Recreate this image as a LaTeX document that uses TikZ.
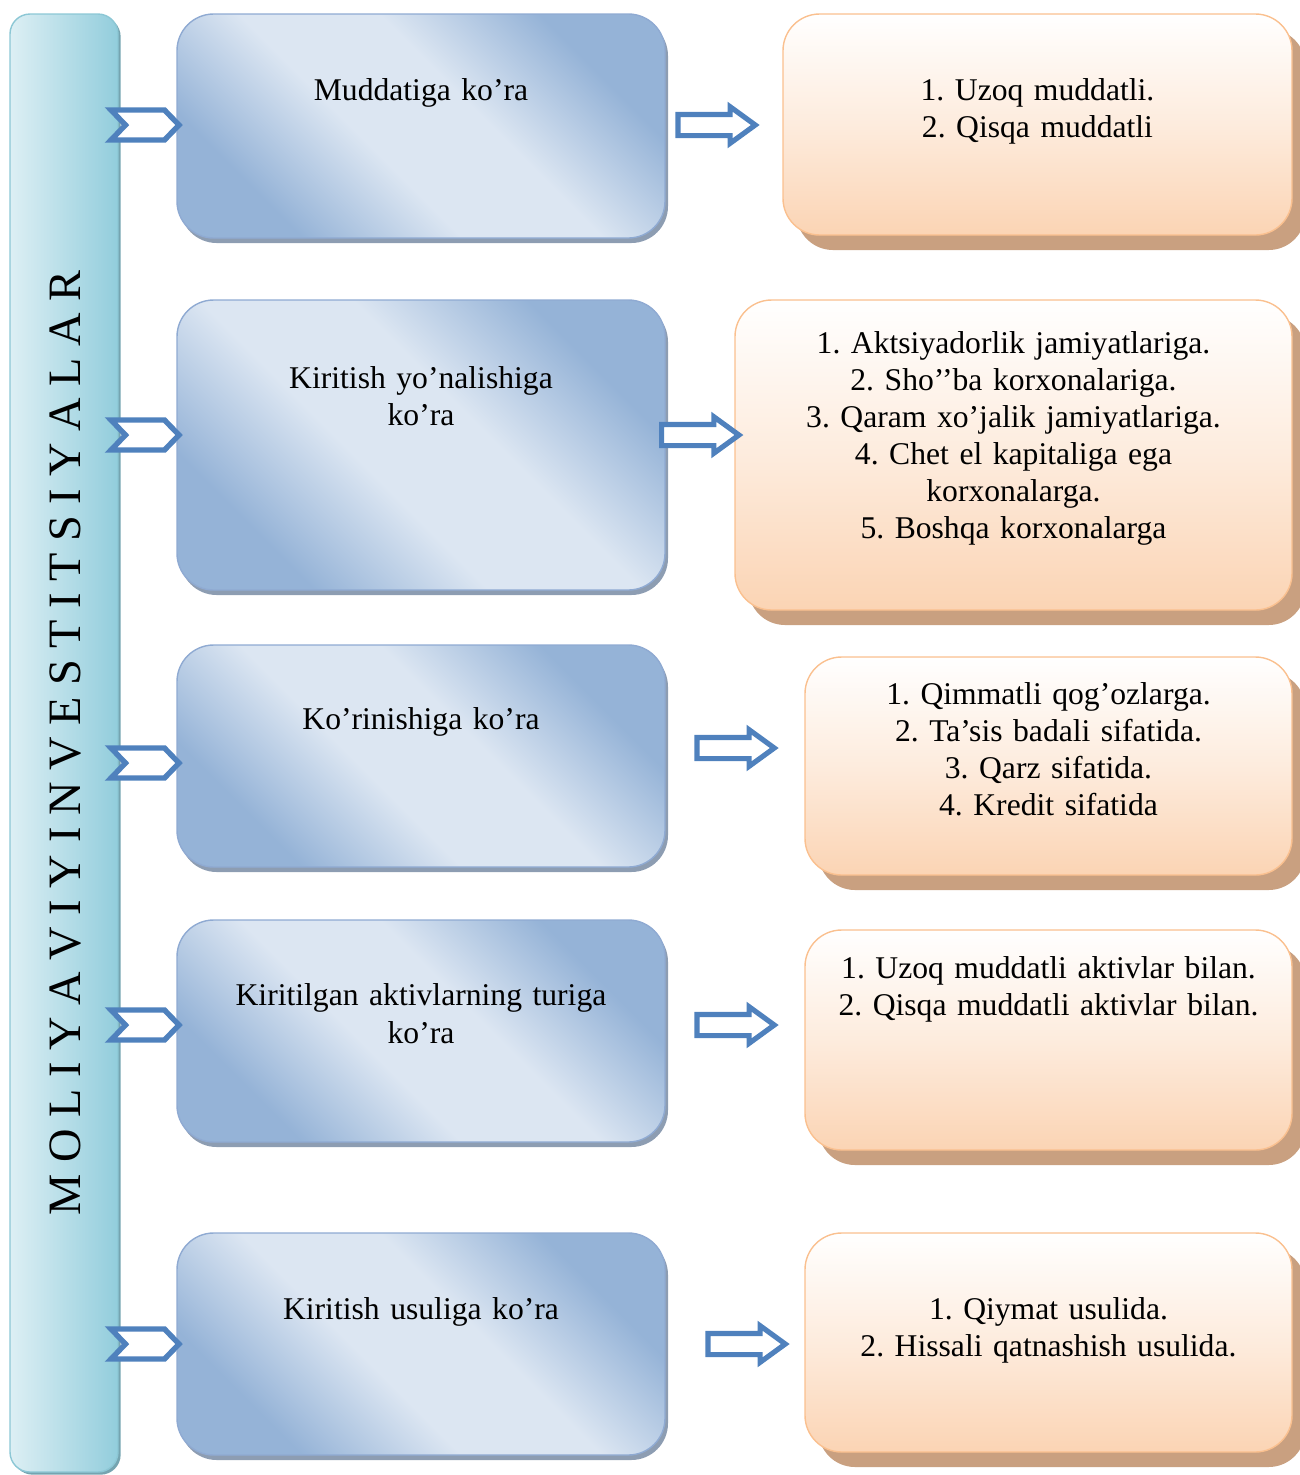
\documentclass[tikz,border=0pt]{standalone}
\usepackage{fontspec}
\setmainfont{Liberation Serif}
\usetikzlibrary{positioning}
\usetikzlibrary{shapes.arrows,shapes.symbols}
\usetikzlibrary{shadows}
\definecolor{barlight}{HTML}{DDEFF4}
\definecolor{bardark}{HTML}{92CDDC}
\definecolor{barline}{HTML}{8CC7D5}
\definecolor{bluedark}{HTML}{95B3D7}
\definecolor{bluelight}{HTML}{DCE6F2}
\definecolor{blueline}{HTML}{8FAAD2}
\definecolor{blueshadow}{HTML}{8D9DB2}
\definecolor{orangelow}{HTML}{FBD4B4}
\definecolor{orangeline}{HTML}{FAC08F}
\definecolor{orangeshadow}{HTML}{C9A080}
\definecolor{arrowblue}{HTML}{4F81BD}

\pgfdeclareverticalshading{bluediag}{100bp}{color(0bp)=(bluedark); color(27bp)=(bluedark);
  color(43bp)=(bluelight); color(57bp)=(bluelight); color(73bp)=(bluedark); color(100bp)=(bluedark)}

\tikzset{
  bar/.style={draw=barline, line width=0.6pt, rounded corners=0.3cm,
    left color=barlight, right color=bardark, inner sep=0pt,
    general shadow={fill=bardark!80!black, shadow xshift=0.04cm, shadow yshift=-0.04cm}},
  kind/.style={draw=blueline, line width=0.6pt, rounded corners=0.55cm,
    shading=bluediag, shading angle=-45,
    general shadow={fill=blueshadow, shadow xshift=0.045cm, shadow yshift=-0.075cm},
    minimum width=7.32cm, inner sep=0pt},
  way/.style={draw=orangeline, line width=0.6pt, rounded corners=0.55cm,
    top color=white, bottom color=orangelow, middle color=orangelow!45!white,
    general shadow={fill=orangeshadow, shadow xshift=0.2cm, shadow yshift=-0.225cm},
    inner sep=0pt},
  boxtext/.style={text width=7.2cm, align=center, inner sep=0pt,
    font=\fontsize{13.5}{15.8}\selectfont\frenchspacing},
  chev/.style={signal, signal from=west, signal to=east, signal pointer angle=92,
    draw=arrowblue, line width=2.3pt, fill=white, inner sep=0pt,
    minimum width=1.02cm, minimum height=0.45cm},
  hollow/.style={single arrow, single arrow tip angle=72, single arrow head extend=0.115cm,
    draw=arrowblue, line width=2.2pt, fill=white, inner xsep=0pt, inner ysep=0.12cm,
    text height=0pt, text depth=0pt, minimum height=1.16cm}
}

\begin{document}
\begin{tikzpicture}

  \useasboundingbox (0,0) rectangle (19.5,-22.125);

  % left bar
  \node[bar, minimum width=1.62cm, minimum height=21.87cm] (bar) at (0.96,-11.145) {};
  \node[rotate=90, anchor=base, inner sep=0pt, font=\fontsize{19.8}{22}\selectfont] (title)
    at (1.2,-11.145) {M O L I Y A V I Y I N V E S T I T S I Y A L A R};

  % middle column
  \node[kind, minimum height=3.36cm] (kind1) at (6.315,-1.89) {};
  \node[kind, minimum height=4.35cm] (kind2) at (6.315,-6.675) {};
  \node[kind, minimum height=3.33cm] (kind3) at (6.315,-11.34) {};
  \node[kind, minimum height=3.33cm] (kind4) at (6.315,-15.465) {};
  \node[kind, minimum height=3.33cm] (kind5) at (6.315,-20.16) {};

  \node[boxtext, below=1.31cm of kind1.north, anchor=base] (kindtxt1) {Muddatiga ko’ra};
  \node[boxtext, below=1.34cm of kind2.north, anchor=base] (kindtxt2) {Kiritish yo’nalishiga\\ko’ra};
  \node[boxtext, below=1.28cm of kind3.north, anchor=base] (kindtxt3) {Ko’rinishiga ko’ra};
  \node[boxtext, below=1.30cm of kind4.north, anchor=base] (kindtxt4) {Kiritilgan aktivlarning turiga\\ko’ra};
  \node[boxtext, below=1.31cm of kind5.north, anchor=base] (kindtxt5) {Kiritish usuliga ko’ra};

  % right column
  \node[way, minimum width=7.635cm, minimum height=3.315cm] (way1) at (15.5625,-1.8675) {};
  \node[way, minimum width=8.355cm, minimum height=4.65cm] (way2) at (15.2025,-6.825) {};
  \node[way, minimum width=7.305cm, minimum height=3.27cm] (way3) at (15.7275,-11.49) {};
  \node[way, minimum width=7.305cm, minimum height=3.3cm] (way4) at (15.7275,-15.6) {};
  \node[way, minimum width=7.305cm, minimum height=3.285cm] (way5) at (15.7275,-20.1375) {};

  \node[boxtext, below=1.31cm of way1.north, anchor=base] (waytxt1)
    {1. Uzoq muddatli.\\2. Qisqa muddatli};
  \node[boxtext, below=0.815cm of way2.north, anchor=base] (waytxt2)
    {1. Aktsiyadorlik jamiyatlariga.\\2. Sho’’ba korxonalariga.\\3. Qaram xo’jalik jamiyatlariga.\\4. Chet el kapitaliga ega\\korxonalarga.\\5. Boshqa korxonalarga};
  \node[boxtext, below=0.725cm of way3.north, anchor=base] (waytxt3)
    {1. Qimmatli qog’ozlarga.\\2. Ta’sis badali sifatida.\\3. Qarz sifatida.\\4. Kredit sifatida};
  \node[boxtext, below=0.74cm of way4.north, anchor=base] (waytxt4)
    {1. Uzoq muddatli aktivlar bilan.\\2. Qisqa muddatli aktivlar bilan.};
  \node[boxtext, below=1.31cm of way5.north, anchor=base] (waytxt5)
    {1. Qiymat usulida.\\2. Hissali qatnashish usulida.};

  % chevrons from the bar
  \node[chev] (chev1) at (2.175,-1.875) {};
  \node[chev] (chev2) at (2.175,-6.525) {};
  \node[chev] (chev3) at (2.175,-11.445) {};
  \node[chev] (chev4) at (2.175,-15.375) {};
  \node[chev] (chev5) at (2.175,-20.16) {};

  % hollow arrows to the lists
  \node[hollow] (arr1) at (10.64,-1.875) {};
  \node[hollow] (arr2) at (10.395,-6.525) {};
  \node[hollow] (arr3) at (10.925,-11.22) {};
  \node[hollow] (arr4) at (10.925,-15.375) {};
  \node[hollow] (arr5) at (11.09,-20.16) {};

\end{tikzpicture}
\end{document}
